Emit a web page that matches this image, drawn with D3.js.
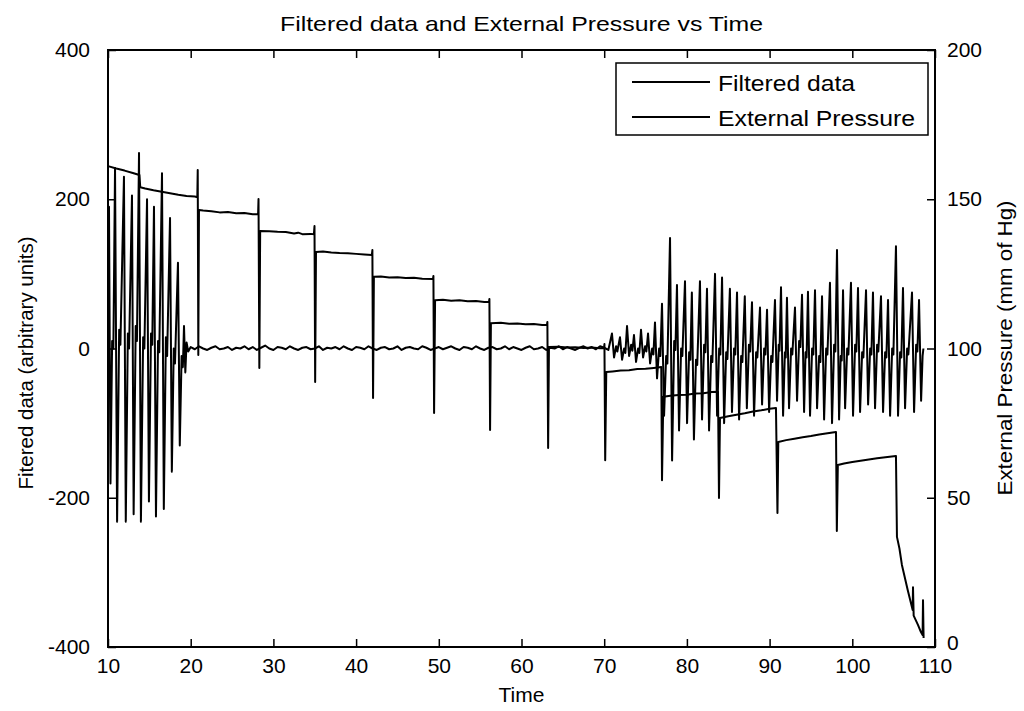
<!DOCTYPE html>
<html><head><meta charset="utf-8">
<script src="https://cdn.jsdelivr.net/npm/d3@7"></script>
<style>
body{margin:0;background:#fff}
svg{display:block}
text{font-family:"Liberation Sans",Arial,Helvetica,sans-serif;fill:#000}
</style>
</head><body>
<svg id="c" width="1024" height="711"></svg>
<script>
// ---------- text ----------
const titleText = "Filtered data and External Pressure vs Time";
const xLabel = "Time";
const yLeftLabel = "Fitered data (arbitrary units)";
const yRightLabel = "External Pressure (mm of Hg)";
const seriesNames = ["Filtered data", "External Pressure"];

// ---------- ticks ----------
const xTicks = [10, 20, 30, 40, 50, 60, 70, 80, 90, 100, 110];
const leftTicks = [-400, -200, 0, 200, 400];
const rightTicks = [0, 50, 100, 150, 200];
const xDomain = [10, 110];
const leftDomain = [-400, 400];
const rightDomain = [0, 200];

// ---------- Filtered data [time, value] (left axis) ----------
const filteredData = [
[10.0,20],[10.12,190],[10.3,-181],[10.5,10],[10.65,0],
[10.85,242],[11.1,-232],[11.35,25],[11.5,5],
[11.93,230],[12.15,-232],[12.4,20],[12.55,0],
[12.9,205],[13.1,-222],[13.35,30],[13.5,10],
[13.75,262],[13.98,-232],[14.25,15],[14.4,0],
[14.72,200],[14.95,-205],[15.2,20],[15.35,5],
[15.56,190],[15.8,-225],[16.05,10],[16.2,-5],
[16.53,235],[16.75,-215],[17.0,15],[17.15,-10],
[17.5,175],[17.72,-165],[17.95,0],[18.1,-20],
[18.46,115],[18.68,-130],[18.9,-10],[19.05,-25],
[19.19,30],[19.35,-32],[19.5,8],[19.7,-4],
[20.0,2],[20.5,-1],[21.0,3],[21.5,0],[22.0,-2],[22.5,1],[23.0,3],[23.5,-1],[24.0,0],[24.5,2],
[25.0,-2],[25.5,1],[26.0,0],[26.5,3],[27.0,-1],[27.5,2],[28.0,-2],[28.5,1],[29.0,4],[29.5,0],
[30.0,-2],[30.5,2],[31.0,1],[31.5,-1],[32.0,3],[32.5,0],[33.0,-2],[33.5,1],[34.0,2],[34.5,-1],
[35.0,0],[35.5,3],[36.0,-2],[36.5,1],[37.0,0],[37.5,2],[38.0,-1],[38.5,3],[39.0,0],[39.5,-2],
[40.0,2],[40.5,1],[41.0,-1],[41.5,3],[42.0,0],[42.5,-2],[43.0,1],[43.5,2],[44.0,-1],[44.5,0],
[45.0,3],[45.5,-2],[46.0,1],[46.5,2],[47.0,0],[47.5,-1],[48.0,3],[48.5,1],[49.0,-2],[49.5,0],
[50.0,2],[50.5,-1],[51.0,1],[51.5,3],[52.0,0],[52.5,-2],[53.0,2],[53.5,1],[54.0,-1],[54.5,3],
[55.0,0],[55.5,-2],[56.0,1],[56.5,2],[57.0,-1],[57.5,0],[58.0,3],[58.5,-1],[59.0,2],[59.5,0],
[60.0,-2],[60.5,1],[61.0,3],[61.5,-1],[62.0,0],[62.5,2],[63.0,-2],[63.5,1],[64.0,0],[64.5,3],
[65.0,-1],[65.5,2],[66.0,0],[66.5,-2],[67.0,1],[67.5,3],[68.0,0],[68.5,2],[69.0,-1],[69.5,3],
[70.0,1],[70.5,-2],
[70.94,20],[71.19,-12],[71.44,3],[71.59,-4],
[71.91,15],[72.16,-15],[72.41,0],[72.56,-6],
[72.76,30],[73.01,-10],[73.26,5],[73.41,-3],
[73.6,18],[73.85,-18],[74.1,0],[74.25,-6],
[74.45,25],[74.7,-12],[74.95,3],[75.1,-4],
[75.3,20],[75.55,-20],[75.8,0],[75.95,-8],
[76.14,35],[76.39,-40],[76.64,0],[76.79,-10],
[76.99,60],[77.24,-90],[77.49,-10],[77.64,-20],
[77.96,148],[78.21,-150],[78.46,10],[78.61,-2],
[78.8,85],[79.05,-110],[79.3,0],[79.45,-10],
[79.77,90],[80.02,-100],[80.27,-5],[80.42,-15],
[80.6,75],[80.85,-122],[81.1,-15],[81.25,-22],
[81.58,90],[81.83,-95],[82.08,5],[82.23,-5],
[82.43,80],[82.68,-110],[82.93,-10],[83.08,-18],
[83.4,100],[83.65,-90],[83.9,0],[84.05,-8],
[84.25,95],[84.5,-100],[84.75,-5],[84.9,-14],
[85.2,80],[85.45,-85],[85.7,0],[85.85,-8],
[86.06,75],[86.31,-95],[86.56,-10],[86.71,-18],
[87.0,70],[87.25,-80],[87.5,5],[87.65,-4],
[87.87,62],[88.12,-90],[88.37,-5],[88.52,-12],
[88.84,55],[89.09,-75],[89.34,0],[89.49,-8],
[89.69,52],[89.94,-85],[90.19,-10],[90.34,-18],
[90.65,65],[90.9,-70],[91.1,5],[91.2,-3],
[91.38,82],[91.63,-90],[91.85,-5],[91.95,-12],
[92.1,68],[92.35,-80],[92.6,0],[92.75,-8],
[93.07,55],[93.32,-70],[93.57,10],[93.72,2],
[93.92,72],[94.17,-85],[94.35,-5],[94.47,-12],
[94.64,76],[94.89,-90],[95.14,0],[95.29,-8],
[95.49,78],[95.74,-80],[95.99,-10],[96.14,-18],
[96.34,70],[96.59,-95],[96.84,0],[96.99,-8],
[97.3,88],[97.55,-100],[97.8,5],[97.95,-4],
[98.15,132],[98.4,-95],[98.6,-10],[98.72,-16],
[98.88,78],[99.13,-80],[99.38,0],[99.53,-8],
[99.84,88],[100.09,-90],[100.34,5],[100.49,-4],
[100.69,81],[100.94,-85],[101.19,-5],[101.34,-12],
[101.66,78],[101.91,-75],[102.16,0],[102.31,-8],
[102.5,75],[102.75,-80],[103.0,5],[103.15,-4],
[103.47,70],[103.72,-85],[103.97,-5],[104.12,-12],
[104.32,65],[104.57,-90],[104.82,0],[104.97,-8],
[105.28,137],[105.53,-90],[105.78,-5],[105.93,-12],
[106.13,81],[106.38,-80],[106.63,0],[106.78,-8],
[107.22,75],[107.47,-85],[107.72,5],[107.87,-4],
[108.07,65],[108.32,-70],[108.5,-10],[108.6,0]
];

// ---------- External Pressure [time, mmHg] (right axis) ----------
const pressureData = [
[10.0,161.1],[11.0,160.3],[12.0,159.6],[13.0,158.8],[13.8,158.1],[13.9,154.0],[14.5,153.6],[15.5,153.0],
[16.5,152.5],[17.5,152.0],[18.5,151.5],[19.5,151.1],[20.5,150.9],[20.8,150.7],
[20.85,159.8],[20.92,97.8],[21.0,146.4],[21.5,146.2],[22.5,146.0],[23.5,145.6],[24.5,145.7],[25.5,145.3],[26.5,145.4],[27.5,145.0],[28.15,145.0],
[28.2,150.1],[28.3,93.5],[28.4,139.4],[29.5,139.3],[30.5,139.1],[31.5,139.0],[32.5,138.5],[33.0,138.8],[33.5,138.3],[34.5,138.4],[34.9,138.3],
[34.97,141.0],[35.05,88.8],[35.15,132.3],[36.0,132.5],[37.0,132.2],[38.0,132.0],[39.0,131.9],[40.0,131.7],[41.0,131.5],[41.9,131.3],
[41.97,133.0],[42.05,83.4],[42.15,124.0],[43.0,124.1],[44.0,123.8],[45.0,123.9],[46.0,123.6],[47.0,123.7],[48.0,123.4],[49.3,123.3],
[49.35,124.3],[49.43,78.4],[49.55,116.2],[50.5,116.3],[51.5,116.0],[52.5,116.2],[53.5,115.8],[54.5,115.9],[55.5,115.6],[56.07,115.6],
[56.12,116.6],[56.2,72.7],[56.3,108.5],[57.5,108.6],[58.5,108.3],[59.5,108.4],[60.5,108.1],[61.5,108.2],[62.5,107.9],[63.08,107.9],
[63.13,108.9],[63.22,66.7],[63.32,100.5],[64.5,100.6],[65.5,100.3],[66.5,100.4],[67.5,100.2],[68.5,100.3],[69.5,100.1],[69.98,100.2],
[70.03,101.5],[70.12,62.6],[70.25,92.1],[71.0,92.3],[72.0,92.6],[73.0,92.7],[74.0,93.1],[75.0,93.2],[76.0,93.5],[76.9,93.8],
[76.99,55.9],[77.15,83.8],[78.0,84.2],[79.0,84.4],[80.0,84.5],[81.0,84.9],[82.0,85.0],[83.0,85.4],[83.76,85.5],
[83.88,49.9],[84.0,76.7],[85.0,77.3],[86.0,77.8],[87.0,78.3],[88.0,78.9],[89.0,79.3],[90.0,79.8],[90.77,80.1],
[90.95,44.9],[91.05,68.7],[92.0,69.3],[93.0,69.8],[94.0,70.3],[95.0,70.7],[96.0,71.2],[97.0,71.6],[98.03,72.0],
[98.13,38.9],[98.25,61.0],[99.0,61.5],[100.0,62.0],[101.0,62.4],[102.0,62.8],[103.0,63.2],[104.0,63.6],[105.28,64.0],
[105.4,36.9],[105.7,33.0],[106.0,27.5],[106.7,19.1],[107.3,12.4],[107.34,20.0],[107.42,10.5],[107.94,7.4],[108.3,5.0],
[108.5,4.0],[108.55,15.7],[108.62,3.0]
];

// ---------- layout ----------
const W = 1024, H = 711;
const plot = {left: 108, right: 935, top: 50, bottom: 647};
const svg = d3.select("#c");
svg.append("rect").attr("width", W).attr("height", H).attr("fill", "#fff");

const x = d3.scaleLinear().domain(xDomain).range([plot.left, plot.right]);
const yL = d3.scaleLinear().domain(leftDomain).range([plot.bottom, plot.top]);
const yR = d3.scaleLinear().domain(rightDomain).range([plot.bottom, plot.top]);

// ---------- data lines ----------
const lineL = d3.line().x(d => x(d[0])).y(d => yL(d[1]));
const lineR = d3.line().x(d => x(d[0])).y(d => yR(d[1]));
svg.append("path").attr("d", lineR(pressureData)).attr("fill", "none")
  .attr("stroke", "#000").attr("stroke-width", 2).attr("stroke-linejoin", "round");
svg.append("path").attr("d", lineL(filteredData)).attr("fill", "none")
  .attr("stroke", "#000").attr("stroke-width", 2).attr("stroke-linejoin", "round");

// ---------- axes ----------
const fmt = d => String(d);
function styleAxis(g) {
  g.select(".domain").remove();
  g.attr("font-family", null).attr("font-size", null);
  g.selectAll(".tick line").attr("stroke", "#000").attr("stroke-width", 1.5);
  g.selectAll(".tick text").attr("font-size", 21).attr("fill", "#000");
}
svg.append("g").attr("transform", `translate(0,${plot.bottom})`)
  .call(d3.axisBottom(x).tickValues(xTicks).tickFormat(fmt).tickSizeInner(-8).tickSizeOuter(0).tickPadding(11))
  .call(styleAxis);
svg.append("g").attr("transform", `translate(0,${plot.top})`)
  .call(d3.axisTop(x).tickValues(xTicks).tickFormat("").tickSizeInner(-8).tickSizeOuter(0))
  .call(styleAxis);
svg.append("g").attr("transform", `translate(${plot.left},0)`)
  .call(d3.axisLeft(yL).tickValues(leftTicks).tickFormat(fmt).tickSizeInner(-8).tickSizeOuter(0).tickPadding(18))
  .call(styleAxis);
const rAxis = svg.append("g").attr("transform", `translate(${plot.right},0)`)
  .call(d3.axisRight(yR).tickValues(rightTicks).tickFormat(fmt).tickSizeInner(-8).tickSizeOuter(0).tickPadding(12))
  .call(styleAxis);
// the lowest right label sits just above the bottom labels
rAxis.selectAll(".tick text").filter(d => d === 0).attr("dy", "0.1em");

// frame
svg.append("rect").attr("x", plot.left).attr("y", plot.top)
  .attr("width", plot.right - plot.left).attr("height", plot.bottom - plot.top)
  .attr("fill", "none").attr("stroke", "#000").attr("stroke-width", 2);

// ---------- titles ----------
svg.append("text").attr("x", (plot.left + plot.right) / 2).attr("y", 31)
  .attr("text-anchor", "middle").attr("font-size", 21)
  .attr("textLength", 483).attr("lengthAdjust", "spacingAndGlyphs").text(titleText);
svg.append("text").attr("x", (plot.left + plot.right) / 2).attr("y", 702)
  .attr("text-anchor", "middle").attr("font-size", 21).text(xLabel);
svg.append("text").attr("transform", "translate(33,363) rotate(-90)")
  .attr("text-anchor", "middle").attr("font-size", 21)
  .attr("textLength", 253).attr("lengthAdjust", "spacingAndGlyphs").text(yLeftLabel);
svg.append("text").attr("transform", "translate(1012,348) rotate(-90)")
  .attr("text-anchor", "middle").attr("font-size", 21)
  .attr("textLength", 295).attr("lengthAdjust", "spacingAndGlyphs").text(yRightLabel);

// ---------- legend ----------
const lg = svg.append("g");
lg.append("rect").attr("x", 616).attr("y", 63).attr("width", 312).attr("height", 72)
  .attr("fill", "#fff").attr("stroke", "#000").attr("stroke-width", 1.5);
const legendRows = [{y: 82, w: 137}, {y: 117, w: 197}];
seriesNames.forEach((name, i) => {
  const r = legendRows[i];
  lg.append("line").attr("x1", 632).attr("x2", 710).attr("y1", r.y).attr("y2", r.y)
    .attr("stroke", "#000").attr("stroke-width", 2);
  lg.append("text").attr("x", 718).attr("y", r.y + 9).attr("font-size", 22)
    .attr("textLength", r.w).attr("lengthAdjust", "spacingAndGlyphs").text(name);
});
</script>
</body></html>
